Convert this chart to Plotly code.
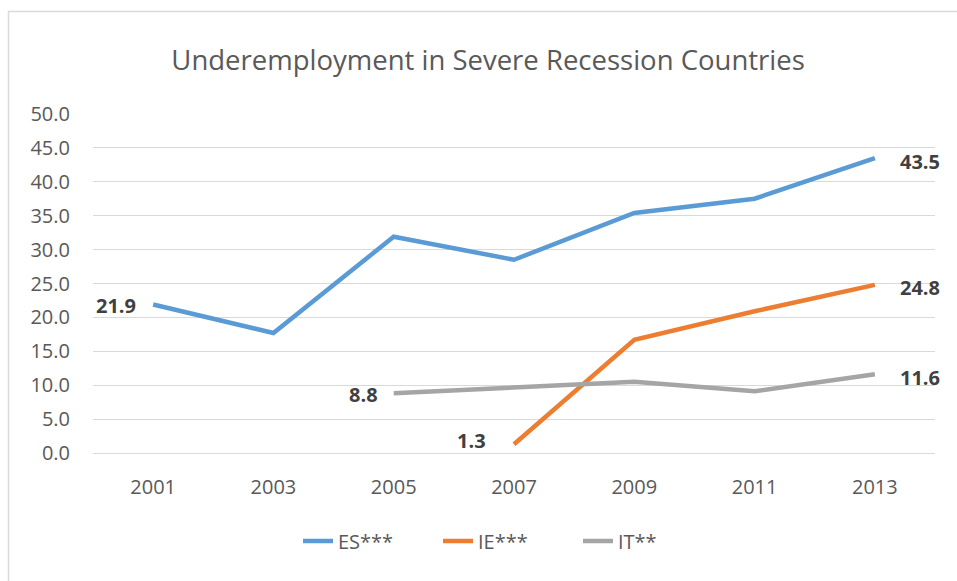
import plotly.graph_objects as go

years = ["2001", "2003", "2005", "2007", "2009", "2011", "2013"]
es_values = [21.9, 17.7, 31.9, 28.5, 35.4, 37.5, 43.5]
ie_values = [None, None, None, 1.3, 16.7, 20.9, 24.8]
it_values = [None, None, 8.8, 9.7, 10.5, 9.1, 11.6]
series_names = ["ES***", "IE***", "IT**"]
colors = ["#5B9BD5", "#ED7D31", "#A5A5A5"]
y_ticks = [0, 5, 10, 15, 20, 25, 30, 35, 40, 45, 50]

FONT = "Open Sans"
fig = go.Figure()
all_series = [es_values, ie_values, it_values]
left_shift = [(-15, -1), (-26, 4), (-14, -1)]
for name, vals, col in zip(series_names, all_series, colors):
    fig.add_trace(go.Scatter(x=years, y=vals, name=name, mode="lines",
                             line=dict(color=col, width=4.5),
                             connectgaps=False, hoverinfo="x+y"))

# data labels: first and last point of each series (x given as category index)
for vals, (lx, ly) in zip(all_series, left_shift):
    idx = [i for i, v in enumerate(vals) if v is not None]
    first, last = idx[0], idx[-1]
    fig.add_annotation(x=first, y=vals[first], text=f"<b>{vals[first]:.1f}</b>",
                       showarrow=False, xanchor="right", xshift=lx, yshift=ly,
                       font=dict(family=FONT, size=20, color="#404040"))
    fig.add_annotation(x=last, y=vals[last], text=f"<b>{vals[last]:.1f}</b>",
                       showarrow=False, xanchor="left", xshift=23, yshift=-3,
                       font=dict(family=FONT, size=20, color="#404040"))

L, R, T, B = 93, 22, 114, 128
W, H = 957, 581
pw, ph = W - L - R, H - T - B

fig.add_shape(type="rect", xref="paper", yref="paper",
              x0=(8.5 - L) / pw, x1=(965 - L) / pw,
              y0=(H - B - 590) / ph, y1=(H - B - 11.5) / ph,
              line=dict(color="#D9D9D9", width=1.5), layer="below")

fig.update_layout(
    width=W, height=H,
    margin=dict(l=L, r=R, t=T, b=B),
    paper_bgcolor="white", plot_bgcolor="white",
    title=dict(text="Underemployment in Severe Recession Countries",
               x=0.51, xanchor="center", y=1 - 60 / H, yanchor="middle",
               font=dict(family=FONT, size=27.5, color="#595959")),
    showlegend=True,
    legend=dict(orientation="h", x=(298 - L) / pw, xanchor="left", y=(H - B - 541) / ph,
                yanchor="middle", font=dict(family=FONT, size=20, color="#595959"),
                entrywidth=95, entrywidthmode="pixels", bgcolor="rgba(0,0,0,0)"),
    xaxis=dict(type="category", range=[-0.5, 6.5], showgrid=False, zeroline=False,
               showline=False, ticks="", ticklabelstandoff=20,
               tickfont=dict(family=FONT, size=20, color="#595959")),
    yaxis=dict(range=[0, 50], tickvals=y_ticks, ticktext=[f"{v:.1f}" for v in y_ticks],
               showgrid=True, gridcolor="#D9D9D9", gridwidth=1,
               zeroline=True, zerolinecolor="#D9D9D9", zerolinewidth=1,
               showline=False, ticks="", ticklabelstandoff=22,
               tickfont=dict(family=FONT, size=20, color="#595959")),
)

fig.write_html("out.html")
